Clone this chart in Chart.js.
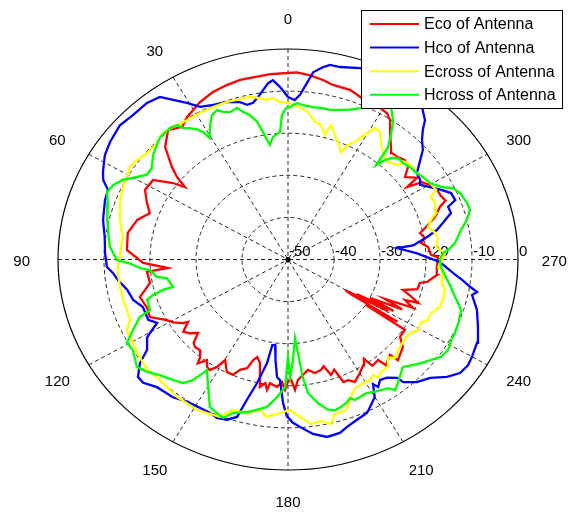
<!DOCTYPE html>
<html>
<head>
<meta charset="utf-8">
<script src="https://cdn.jsdelivr.net/npm/chart.js@4.4.1/dist/chart.umd.min.js"></script>
<style>
  html, body { margin: 0; padding: 0; background: #ffffff; }
  canvas { display: block; }
</style>
</head>
<body>
<canvas id="polar" width="574" height="514"></canvas>
<script>
// Series names and colours
const seriesNames = ['Eco of Antenna', 'Hco of Antenna', 'Ecross of Antenna', 'Hcross of Antenna'];
const seriesColors = ['#ff0000', '#0000ff', '#ffff00', '#00ff00'];

// Polar axis ticks: angle spokes (degrees) and radial rings (dB)
const angleTicks = [0, 30, 60, 90, 120, 150, 180, 210, 240, 270, 300, 330];
const radialTicks = [-50, -40, -30, -20, -10, 0];

// Eco of Antenna: angle (deg) / level (dB)
const ecoAngle = [0, 5, 13.7, 18, 22.3, 27.1, 33, 36.1, 40.3, 45, 48.9, 50.9, 52.5, 54, 57.2, 62, 66, 69.9, 74, 79.7, 86.3, 91.5, 94.4, 95.5, 100.5, 105.5, 110.6, 114.5, 118.7, 121, 123.5, 124.3, 127, 129.4, 131.7, 134, 135.8, 138.4, 140.5, 141.5, 143.6, 145.4, 147, 148.9, 150.2, 153.5, 156.4, 158.3, 161, 162.4, 163.9, 166.1, 168.6, 170.5, 171.6, 172.4, 175.5, 177.4, 178.8, 180, 181.4, 182.8, 184.3, 189.4, 192.3, 195.3, 197, 198.8, 201, 202.5, 204.5, 206.6, 210, 213, 215, 216, 219.4, 220.3, 224.4, 225, 230.2, 233, 236.7, 237.5, 238.2, 239, 239.7, 240.5, 241.2, 242, 243, 244.5, 246, 247.1, 249.3, 250, 252, 253.8, 256, 259, 260, 263.5, 266.8, 271, 272, 275.6, 277.7, 279.7, 282.4, 284.4, 287.5, 290.7, 292.2, 294.5, 297, 300, 302.3, 303.6, 304.7, 307.6, 310.1, 312.9, 315.5, 318.2, 319.8, 323.5, 326.2, 328.3, 331, 334, 337.3, 341.5, 346.7, 349.9, 353.7, 357.5];
const ecoDb = [-5.7, -5.8, -6.1, -6.5, -7.0, -8.0, -9.7, -11, -9.7, -12.2, -16.5, -18.9, -21.8, -19.1, -15.1, -14.8, -16.4, -18, -15.9, -14.6, -14.9, -18.5, -23.8, -19.2, -19.5, -16.6, -17.3, -17, -20, -21, -22.6, -23.7, -21.5, -22.4, -23.8, -21.5, -21, -21.2, -20, -18.5, -20.3, -19, -18.7, -20.2, -22.5, -20.2, -20.1, -21.8, -22.7, -24.9, -25.9, -24.7, -19.1, -20.2, -18.7, -20.4, -19.6, -20.9, -19, -21, -21.4, -19, -21.3, -23.4, -22.4, -22.8, -23.5, -21, -22, -18.5, -18.5, -17.5, -18.8, -20, -21.2, -18.8, -19.1, -17.1, -18.3, -16.2, -17.5, -19.5, -19.6, -30, -22, -34, -35.6, -25, -33, -24, -30, -22.5, -27, -20.5, -22.8, -19.9, -22, -24, -21, -20.8, -19.3, -17.4, -17.6, -17.4, -18.9, -19.4, -20.8, -19.8, -20.6, -19, -16.5, -14.7, -13, -13.5, -13.6, -14.5, -15.6, -18.9, -15.9, -17.9, -15.9, -15.3, -15.9, -16.1, -15.3, -12.7, -10.1, -9.1, -8.8, -8.6, -8.4, -7.5, -7.4, -6.7, -6, -5.5];

// Hco of Antenna
const hcoAngle = [0, 2.4, 4.4, 5.9, 8.9, 11.5, 13.6, 15.6, 19.5, 23.9, 27.8, 30.6, 33.4, 35.8, 39.5, 44.5, 48.9, 54.2, 58.1, 62.6, 64.8, 67.1, 70.5, 76.8, 82.4, 87.8, 92.6, 94.8, 97.5, 101.6, 105.9, 109.7, 115.3, 117.9, 120.2, 121.2, 125, 127.4, 130.5, 132.9, 136.8, 142.6, 146.9, 151.6, 155, 157.7, 160.8, 163.5, 165, 167.1, 169.5, 170.5, 172.2, 173.5, 175.1, 176.5, 178.2, 179.6, 181.6, 184.6, 187.5, 191.4, 195.3, 197.8, 201.5, 205.2, 207, 210, 212, 212.9, 215, 217.5, 220.2, 220.7, 223.9, 227.7, 231.1, 234.2, 237.3, 239.9, 244.3, 248.8, 253.7, 258.1, 259.4, 260.7, 262.6, 264.9, 269, 273, 276.5, 277, 280, 282.2, 284.5, 287.3, 289.8, 291.2, 294, 296.4, 298.9, 301.5, 303.4, 306.2, 309.4, 311.6, 314.3, 316.4, 318, 321.2, 326, 331, 336, 341, 346.1, 348.8, 350.6, 353, 354.4, 356.2, 357.8];
const hcoDb = [-11.4, -9, -7.3, -7.9, -10.4, -12, -12.2, -11.2, -10.3, -9.8, -9, -6.8, -4.6, -2.4, -1.8, -1.9, -1.5, -2.3, -3.1, -4.7, -5.6, -7.5, -7.8, -8.7, -9.8, -10.2, -10.6, -11.8, -12.7, -14.3, -15, -16.5, -16.4, -17.8, -15.3, -14.2, -12.6, -9.5, -7.1, -7, -8.4, -8.8, -9.7, -9.9, -9.8, -9.3, -9.7, -11, -15.5, -19.9, -25, -29.4, -29.5, -26, -22, -21.3, -15.9, -12.8, -11.2, -9.7, -8.2, -7, -7.3, -8.2, -9.1, -9.7, -10.7, -12.3, -15.1, -13.9, -15.1, -14.6, -13.2, -11.6, -9.6, -8.2, -5.6, -3.9, -3.5, -3.8, -4.4, -5.7, -7.2, -9.1, -8.2, -9.9, -11.7, -14, -17, -21.9, -26.1, -22.6, -19.3, -16.9, -15.2, -12.9, -13, -11, -11.2, -12.8, -14.5, -16.1, -15.6, -15.3, -12.8, -10.8, -9.3, -7.5, -5.5, -3.5, -2.8, -2.3, -2, -1.9, -2.9, -2.9, -3.7, -5.2, -7.9, -10.8, -12.1];

// Ecross of Antenna
const ecrAngle = [0.3, 2.7, 4.9, 6.9, 9.9, 12.1, 14.3, 16.3, 19.5, 24.2, 28.8, 33.6, 38.4, 42.2, 45.8, 50.5, 54.3, 57.3, 60.7, 64.4, 68.9, 75.6, 81.6, 87.6, 92.8, 95, 100.1, 105, 108.9, 112.7, 115.5, 120.4, 125.8, 130.5, 134.4, 139, 143.6, 147.2, 151, 154.3, 158.4, 161.4, 166.3, 170.3, 173, 177.3, 180.7, 184, 187.3, 190.6, 193.4, 195.5, 199, 200.5, 202.7, 205.5, 207.6, 209.8, 211.8, 214, 214.9, 217.1, 220.4, 223.1, 224.9, 228, 230.5, 234.3, 236.7, 239.5, 242.4, 244.6, 247.8, 251, 254.1, 258, 260.5, 262.9, 265.7, 266.8, 269.8, 272.5, 275.3, 279, 281.2, 284.2, 286.8, 288.9, 292.8, 295.5, 297.2, 300.5, 303.8, 306.2, 310, 312.4, 313.2, 316.9, 318.8, 321, 324.1, 326.6, 328.8, 330.6, 332.4, 334.4, 335.7, 338.7, 341, 343.7, 344.9, 347.4, 349.8, 352.9, 355.5, 357.6];
const ecrDb = [-12.8, -12.5, -11.5, -11.8, -11, -10.5, -10.4, -10.5, -10.3, -10.3, -10.3, -10.3, -9.8, -9.5, -10.3, -10.3, -9.6, -9.2, -9.9, -10.2, -10.9, -12.3, -13.7, -13.5, -13, -12.9, -12.9, -12.9, -13, -12.8, -11.2, -10.9, -10.3, -9.7, -10.1, -9.9, -9.4, -9.4, -9.2, -9.5, -9.8, -12.3, -12.4, -13.8, -12.3, -13.5, -14.3, -12.5, -10.6, -11, -9.8, -11.9, -12, -12.8, -14.6, -16.1, -16.2, -16.4, -16.2, -16.9, -15.8, -16.5, -16.5, -18.2, -17, -17.8, -18.1, -18.4, -18.1, -17.1, -17.4, -16.4, -16.4, -15.1, -15, -15.1, -16.1, -16.1, -16.4, -17.3, -16.5, -15.8, -17.7, -17, -17.4, -18.6, -17.5, -16, -15.3, -15.6, -13.8, -14.2, -14.7, -15.3, -15.1, -15.6, -17.2, -18.2, -18, -17.2, -15.5, -13.7, -13.5, -16, -18.5, -19.8, -22, -20.1, -18.7, -16.7, -19.3, -17.2, -16.8, -14.7, -13.9, -13.3];

// Hcross of Antenna
const hcrAngle = [0.7, 2.2, 3.3, 6.4, 8.2, 9.1, 10.2, 11.6, 13.6, 15.6, 17.1, 19.8, 22, 23.5, 25.7, 28, 30.5, 31.4, 32.5, 34.3, 36.2, 37, 39.4, 43.7, 46.3, 49.8, 53.8, 56.7, 60.1, 62.2, 65, 67.8, 71.1, 76.5, 80.8, 85.6, 90.2, 91.5, 93.6, 94.8, 98.3, 99.5, 104.6, 104.9, 106, 107.4, 111.8, 113, 116.4, 119.5, 122.5, 127.9, 131.1, 134.6, 138.8, 142.1, 144.2, 145.6, 146.1, 149.3, 154.1, 157.1, 159.4, 161.8, 166.2, 169.4, 172.6, 175.8, 178.8, 180, 181, 182.6, 184.7, 185.6, 186.5, 187.8, 190.8, 193.7, 196, 198.2, 200.3, 202.3, 203.6, 205.6, 208.2, 210.4, 213.1, 215.4, 216.9, 219.2, 222.3, 224.4, 226.8, 229.6, 232.5, 235.1, 238.3, 241.7, 244.3, 247.8, 252.3, 254.4, 256.2, 259.6, 263, 266.9, 270, 272.6, 273.7, 276.1, 278.2, 280.5, 282.7, 284.5, 286.6, 289, 292.9, 295.3, 297, 300.5, 303.8, 306.2, 309.7, 312.5, 315.2, 317.1, 318.2, 319.5, 320.7, 322.9, 325.1, 328, 332, 336.2, 340, 345.6, 348.7, 351.5, 354.9, 357, 359.3];
const hcrDb = [-14, -15.7, -19.7, -20.7, -22.5, -21.3, -19.2, -16.6, -14.7, -13.6, -12.3, -12.8, -12.2, -11.3, -11.9, -13.9, -16.5, -14.5, -13.4, -12.2, -11.3, -10, -9.6, -9.8, -10.6, -11.6, -13.3, -13.3, -11.1, -9.4, -8.1, -7.5, -8.6, -9.6, -10.4, -11.2, -12.8, -15.5, -17.8, -19.9, -21.2, -23.3, -24.2, -21.9, -19.5, -17.9, -17.7, -15, -12.4, -9.8, -10, -8.4, -9.4, -10.9, -12, -12.8, -14.7, -17.3, -18.4, -15.9, -11.1, -10.4, -9.8, -11.6, -12.7, -13.7, -14.7, -17.2, -19.7, -26.8, -22, -26.1, -31.3, -27.7, -22, -18, -15.3, -13.3, -12.8, -13.1, -13.6, -14.4, -13.6, -13.8, -14, -13.5, -13, -12.5, -11.2, -12.2, -13.5, -14.3, -13.3, -12, -10.8, -9.5, -9.1, -9.7, -9.7, -10, -10.5, -11.6, -12.6, -14, -15.4, -16.7, -17, -16.3, -15.1, -13.5, -12.7, -11.8, -10.5, -9.6, -8.7, -8.8, -9.4, -10.3, -12.2, -14.2, -14.7, -15.3, -15.6, -16.1, -16, -17.1, -18.3, -20.5, -15.7, -12.9, -10.1, -7.6, -8.5, -10.7, -12.2, -13.3, -13.3, -13.4, -13.2, -12.8, -13.8];

const R_MIN = radialTicks[0];
const R_MAX = radialTicks[radialTicks.length - 1];
const SPAN = R_MAX - R_MIN;
const FONT = '"Liberation Sans", Arial, Helvetica, sans-serif';

// 0 deg points up, angles grow counter-clockwise; radius measured from R_MIN
function toCartesian(angles, levels) {
  const pts = angles.map((a, i) => {
    const r = levels[i] - R_MIN;
    const t = a * Math.PI / 180;
    return { x: -r * Math.sin(t), y: r * Math.cos(t) };
  });
  pts.push(pts[0]);
  return pts;
}

function geometry(chart) {
  const xs = chart.scales.x, ys = chart.scales.y;
  const cx = xs.getPixelForValue(0), cy = ys.getPixelForValue(0);
  const rx = xs.getPixelForValue(SPAN) - cx;
  const ry = cy - ys.getPixelForValue(SPAN);
  return { xs, ys, cx, cy, rx, ry };
}

// Polar grid, angle labels and ring labels, drawn beneath the traces
const polarGrid = {
  id: 'polarGrid',
  beforeDatasetsDraw(chart) {
    const ctx = chart.ctx;
    const { xs, cx, cy, rx, ry } = geometry(chart);
    ctx.save();
    ctx.lineWidth = 1;
    ctx.strokeStyle = '#262626';
    ctx.setLineDash([4, 3]);
    radialTicks.slice(1, -1).forEach(v => {
      const f = (v - R_MIN) / SPAN;
      ctx.beginPath();
      ctx.ellipse(cx, cy, rx * f, ry * f, 0, 0, Math.PI * 2);
      ctx.stroke();
    });
    angleTicks.filter(a => a < 180).forEach(a => {
      const t = a * Math.PI / 180;
      const dx = -rx * Math.sin(t), dy = -ry * Math.cos(t);
      ctx.beginPath();
      ctx.moveTo(cx + dx, cy + dy);
      ctx.lineTo(cx - dx, cy - dy);
      ctx.stroke();
    });
    ctx.setLineDash([]);
    ctx.strokeStyle = '#000000';
    ctx.lineWidth = 1.2;
    ctx.beginPath();
    ctx.ellipse(cx, cy, rx, ry, 0, 0, Math.PI * 2);
    ctx.stroke();

    ctx.fillStyle = '#000000';
    ctx.beginPath();
    ctx.arc(cx, cy, 2.5, 0, Math.PI * 2);
    ctx.fill();

    ctx.font = '15px ' + FONT;
    ctx.textAlign = 'center';
    ctx.textBaseline = 'middle';
    angleTicks.forEach(a => {
      const t = a * Math.PI / 180;
      ctx.fillText(String(a), cx - rx * 1.158 * Math.sin(t), cy + 2 - ry * 1.148 * Math.cos(t));
    });

    ctx.textAlign = 'left';
    radialTicks.forEach(v => {
      ctx.fillText(String(v), xs.getPixelForValue(v - R_MIN) + 1, cy - 8);
    });
    ctx.restore();
  }
};

// Boxed legend in the upper right corner, drawn over everything
const boxLegend = {
  id: 'boxLegend',
  afterDraw(chart) {
    const ctx = chart.ctx;
    const left = 361.5, top = 10.5, w = 201, h = 98;
    ctx.save();
    ctx.fillStyle = '#ffffff';
    ctx.fillRect(left, top, w, h);
    ctx.strokeStyle = '#000000';
    ctx.lineWidth = 1;
    ctx.strokeRect(left, top, w, h);
    ctx.font = '16px ' + FONT;
    ctx.textAlign = 'left';
    ctx.textBaseline = 'middle';
    chart.data.datasets.forEach((ds, i) => {
      const yy = 24 + i * 23.6;
      ctx.strokeStyle = ds.borderColor;
      ctx.lineWidth = 2;
      ctx.beginPath();
      ctx.moveTo(370, yy);
      ctx.lineTo(419, yy);
      ctx.stroke();
      ctx.fillStyle = '#000000';
      ctx.fillText(ds.label, 424, yy + 1);
    });
    ctx.restore();
  }
};

const traces = [
  toCartesian(ecoAngle, ecoDb),
  toCartesian(hcoAngle, hcoDb),
  toCartesian(ecrAngle, ecrDb),
  toCartesian(hcrAngle, hcrDb)
];

new Chart(document.getElementById('polar'), {
  type: 'scatter',
  data: {
    datasets: traces.map((pts, i) => ({
      label: seriesNames[i],
      data: pts,
      borderColor: seriesColors[i],
      backgroundColor: seriesColors[i],
      borderWidth: 2.3,
      borderJoinStyle: 'miter',
      showLine: true,
      pointRadius: 0,
      tension: 0,
      fill: false,
      clip: false,
      order: traces.length - i
    }))
  },
  options: {
    responsive: false,
    animation: false,
    layout: { padding: { left: 58, right: 56, top: 49, bottom: 44 } },
    scales: {
      x: { type: 'linear', min: -SPAN, max: SPAN, display: false },
      y: { type: 'linear', min: -SPAN, max: SPAN, display: false }
    },
    plugins: {
      legend: { display: false },
      tooltip: { enabled: false }
    }
  },
  plugins: [polarGrid, boxLegend]
});
</script>
</body>
</html>
